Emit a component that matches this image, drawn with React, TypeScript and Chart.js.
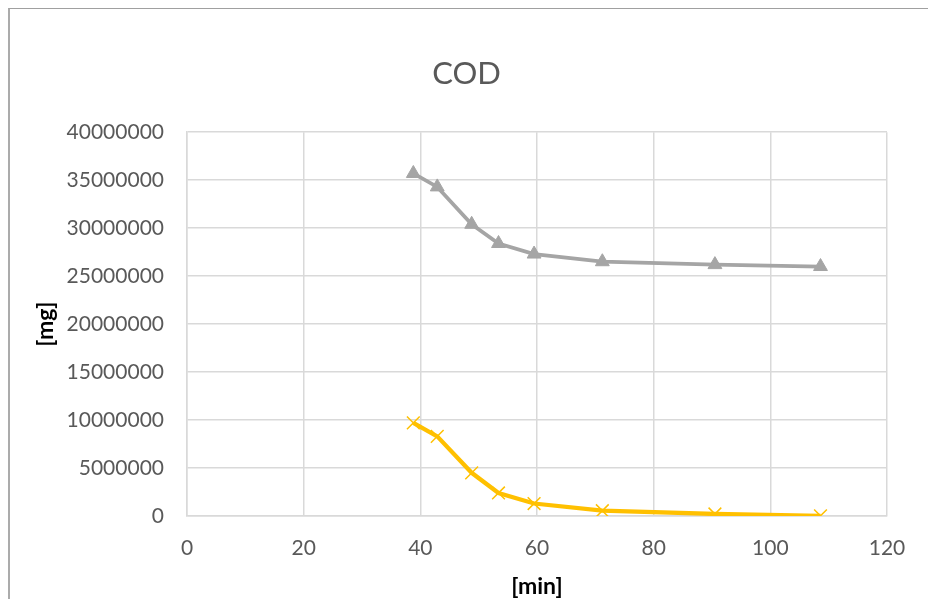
import React, { useEffect, useRef } from "react";
import { Chart, registerables } from "chart.js";

Chart.register(...registerables);

const timeMin = [38.8, 42.9, 48.8, 53.4, 59.5, 71.2, 90.5, 108.6];
const seriesGray = [35700000, 34300000, 30400000, 28400000, 27300000, 26500000, 26200000, 26000000];
const seriesYellow = [9700000, 8300000, 4500000, 2400000, 1300000, 550000, 210000, 20000];
const xTicks = [0, 20, 40, 60, 80, 100, 120];
const yTicks = [0, 5000000, 10000000, 15000000, 20000000, 25000000, 30000000, 35000000, 40000000];

const FONT = "Lato, 'Open Sans', sans-serif";

export default function App() {
  const ref = useRef<HTMLCanvasElement | null>(null);

  useEffect(() => {
    if (!ref.current) return;
    const chart = new Chart(ref.current, {
      type: "scatter",
      data: {
        datasets: [
          {
            label: "A",
            data: timeMin.map((x, i) => ({ x, y: seriesGray[i] })),
            showLine: true,
            borderColor: "#A5A5A5",
            backgroundColor: "#A5A5A5",
            borderWidth: 3.75,
            pointStyle: "triangle",
            pointRadius: 8,
            pointBorderWidth: 1,
            pointBorderColor: "#A5A5A5",
            pointBackgroundColor: "#A5A5A5",
          },
          {
            label: "B",
            data: timeMin.map((x, i) => ({ x, y: seriesYellow[i] })),
            showLine: true,
            borderColor: "#FFC000",
            backgroundColor: "#FFC000",
            borderWidth: 4.25,
            pointStyle: "crossRot",
            pointRadius: 9,
            pointBorderWidth: 1.5,
            pointBorderColor: "#FFC000",
          },
        ],
      },
      options: {
        animation: false,
        responsive: false,
        maintainAspectRatio: false,
        layout: { padding: { left: 36, right: 41, top: 0, bottom: 0 } },
        plugins: {
          legend: { display: false },
          tooltip: { enabled: false },
          title: {
            display: true,
            text: "COD",
            color: "#595959",
            font: { family: FONT, size: 31, weight: "normal" },
            padding: { top: 46, bottom: 40 },
          },
        },
        scales: {
          x: {
            type: "linear",
            min: 0,
            max: 120,
            afterBuildTicks: (s: any) => {
              s.ticks = xTicks.map((v) => ({ value: v }));
            },
            afterFit: (s: any) => {
              s.height = 83;
            },
            ticks: {
              color: "#595959",
              font: { family: FONT, size: 21 },
              padding: 20,
              maxRotation: 0,
              callback: (v: any) => String(v),
            },
            grid: { color: "#D9D9D9", lineWidth: 1.5, drawTicks: false },
            border: { color: "#D9D9D9", width: 1.5 },
            title: {
              display: true,
              text: "[min]",
              color: "#000000",
              font: { family: FONT, size: 23, weight: "bold" },
              padding: { top: 0, bottom: -1 },
            },
          },
          y: {
            type: "linear",
            min: 0,
            max: 40000000,
            afterBuildTicks: (s: any) => {
              s.ticks = yTicks.map((v) => ({ value: v }));
            },
            afterFit: (s: any) => {
              s.width = 141;
            },
            ticks: {
              color: "#595959",
              font: { family: FONT, size: 21 },
              padding: 23,
              callback: (v: any) => String(v),
            },
            grid: { color: "#D9D9D9", lineWidth: 1.5, drawTicks: false },
            border: { color: "#D9D9D9", width: 1.5 },
            title: {
              display: true,
              text: "[mg]",
              color: "#000000",
              font: { family: FONT, size: 23, weight: "bold" },
              padding: { top: -14, bottom: 0 },
            },
          },
        },
      },
    });
    return () => chart.destroy();
  }, []);

  return (
    <div
      style={{
        position: "absolute",
        left: 8,
        top: 8,
        width: 920,
        height: 591,
        overflow: "hidden",
        boxSizing: "border-box",
        borderLeft: "2px solid #ABABAB",
        borderTop: "1px solid #A0A0A0",
        background: "#fff",
      }}
    >
      <canvas ref={ref} width={918} height={590} style={{ display: "block", width: 918, height: 590 }} />
    </div>
  );
}
